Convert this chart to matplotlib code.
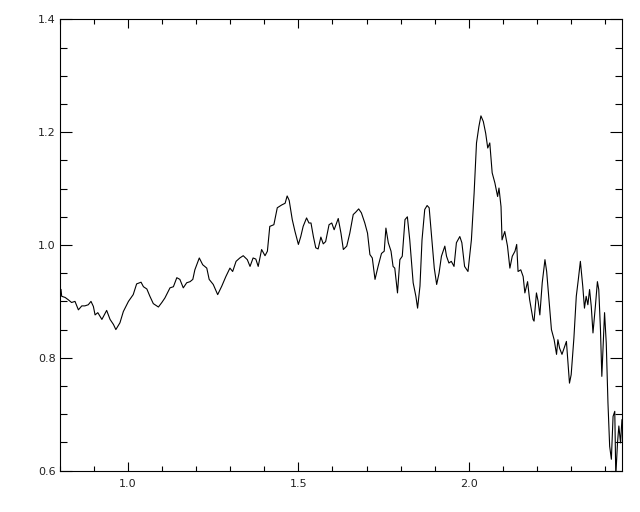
import matplotlib
matplotlib.use("Agg")
import matplotlib.pyplot as plt
from matplotlib.ticker import MultipleLocator

# traced spectrum (wavelength, relative flux)
wave = [0.803, 0.805, 0.815, 0.824, 0.834, 0.844, 0.854, 0.864, 0.873, 0.883,
        0.891, 0.898, 0.903, 0.911, 0.923, 0.937, 0.947, 0.957, 0.964, 0.976,
        0.986, 1.001, 1.015, 1.025, 1.038, 1.045, 1.055, 1.064, 1.074, 1.089,
        1.099, 1.108, 1.123, 1.133, 1.143, 1.152, 1.162, 1.172, 1.182, 1.190,
        1.196, 1.209, 1.219, 1.231, 1.238, 1.250, 1.263, 1.275, 1.287, 1.299,
        1.307, 1.317, 1.328, 1.338, 1.350, 1.358, 1.367, 1.375, 1.382, 1.392,
        1.402, 1.409, 1.416, 1.428, 1.438, 1.451, 1.461, 1.467, 1.473, 1.482,
        1.490, 1.500, 1.507, 1.514, 1.524, 1.531, 1.537, 1.544, 1.551, 1.558,
        1.566, 1.573, 1.580, 1.590, 1.598, 1.605, 1.617, 1.625, 1.632, 1.642,
        1.651, 1.661, 1.668, 1.677, 1.685, 1.695, 1.703, 1.710, 1.717, 1.725,
        1.734, 1.744, 1.752, 1.757, 1.764, 1.772, 1.778, 1.783, 1.791, 1.798,
        1.805, 1.813, 1.820, 1.827, 1.837, 1.845, 1.850, 1.857, 1.863, 1.871,
        1.878, 1.884, 1.891, 1.899, 1.906, 1.913, 1.920, 1.925, 1.930, 1.935,
        1.942, 1.949, 1.957, 1.964, 1.974, 1.980, 1.988, 1.998, 2.008, 2.016,
        2.023, 2.030, 2.036, 2.043, 2.050, 2.056, 2.062, 2.069, 2.077, 2.085,
        2.089, 2.095, 2.098, 2.106, 2.114, 2.121, 2.128, 2.136, 2.141, 2.145,
        2.153, 2.160, 2.165, 2.173, 2.179, 2.189, 2.192, 2.199, 2.204, 2.209,
        2.216, 2.224, 2.229, 2.235, 2.243, 2.251, 2.258, 2.262, 2.267, 2.274,
        2.282, 2.287, 2.291, 2.296, 2.301, 2.309, 2.316, 2.322, 2.328, 2.335,
        2.340, 2.345, 2.350, 2.355, 2.360, 2.365, 2.372, 2.378, 2.382, 2.387,
        2.391, 2.399, 2.404, 2.409, 2.414, 2.419, 2.424, 2.429, 2.432, 2.437,
        2.441, 2.446, 2.450]
flux = [0.921, 0.909, 0.907, 0.903, 0.898, 0.900, 0.885, 0.892, 0.892, 0.894,
        0.900, 0.891, 0.876, 0.880, 0.868, 0.884, 0.868, 0.859, 0.850, 0.862,
        0.882, 0.900, 0.912, 0.931, 0.934, 0.926, 0.922, 0.909, 0.896, 0.890,
        0.898, 0.906, 0.924, 0.926, 0.942, 0.939, 0.924, 0.933, 0.935, 0.939,
        0.956, 0.977, 0.965, 0.959, 0.939, 0.930, 0.912, 0.927, 0.944, 0.959,
        0.953, 0.971, 0.977, 0.981, 0.974, 0.962, 0.977, 0.975, 0.962, 0.992,
        0.981, 0.989, 1.033, 1.036, 1.066, 1.071, 1.074, 1.087, 1.079, 1.045,
        1.024, 1.001, 1.015, 1.033, 1.048, 1.039, 1.039, 1.015, 0.995, 0.993,
        1.014, 1.002, 1.006, 1.036, 1.039, 1.027, 1.047, 1.021, 0.992, 0.998,
        1.021, 1.054, 1.058, 1.064, 1.057, 1.039, 1.021, 0.983, 0.977, 0.939,
        0.962, 0.985, 0.989, 1.030, 1.004, 0.989, 0.962, 0.959, 0.915, 0.974,
        0.980, 1.045, 1.050, 1.009, 0.933, 0.909, 0.888, 0.927, 1.009, 1.063,
        1.070, 1.066, 1.015, 0.959, 0.930, 0.950, 0.980, 0.989, 0.998, 0.980,
        0.968, 0.971, 0.962, 1.004, 1.015, 1.004, 0.962, 0.953, 1.009, 1.092,
        1.181, 1.210, 1.229, 1.219, 1.198, 1.172, 1.181, 1.128, 1.110, 1.086,
        1.101, 1.068, 1.009, 1.024, 0.998, 0.959, 0.980, 0.989, 1.001, 0.953,
        0.956, 0.944, 0.915, 0.935, 0.903, 0.868, 0.865, 0.915, 0.900, 0.876,
        0.933, 0.974, 0.953, 0.909, 0.850, 0.832, 0.806, 0.832, 0.817, 0.806,
        0.820, 0.829, 0.797, 0.755, 0.770, 0.835, 0.909, 0.939, 0.971, 0.927,
        0.888, 0.909, 0.894, 0.921, 0.891, 0.844, 0.891, 0.935, 0.921, 0.850,
        0.767, 0.880, 0.826, 0.720, 0.643, 0.620, 0.696, 0.705, 0.590, 0.649,
        0.679, 0.649, 0.690]

fig = plt.figure(figsize=(6.4, 5.12), dpi=100)
ax = fig.add_axes([0.09375, 0.081, 0.878, 0.881])

ax.plot(wave, flux, color='black', linewidth=0.8)

ax.set_xlim(0.8, 2.45)
ax.set_ylim(0.6, 1.4)
ax.xaxis.set_major_locator(MultipleLocator(0.5))
ax.xaxis.set_minor_locator(MultipleLocator(0.1))
ax.yaxis.set_major_locator(MultipleLocator(0.2))
ax.yaxis.set_minor_locator(MultipleLocator(0.05))
ax.xaxis.set_major_formatter(plt.FormatStrFormatter('%.1f'))
ax.yaxis.set_major_formatter(plt.FormatStrFormatter('%.1f'))

# IDL-like inward ticks on all sides
ax.tick_params(which='both', direction='in', top=True, right=True,
               width=0.8, labelsize=8, labelcolor='#222222')
ax.tick_params(axis='x', which='major', length=6.8, pad=6)
ax.tick_params(axis='x', which='minor', length=3.6)
ax.tick_params(axis='y', which='major', length=8.3, pad=3)
ax.tick_params(axis='y', which='minor', length=4.7)
for s in ax.spines.values():
    s.set_linewidth(0.8)

fig.savefig('out.png', dpi=100)
